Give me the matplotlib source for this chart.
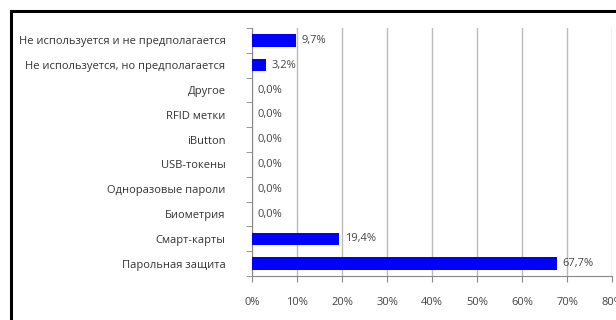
import matplotlib
matplotlib.use("Agg")
import matplotlib.pyplot as plt
from matplotlib.lines import Line2D
import numpy as np

plt.rcParams['font.family'] = ['Open Sans', 'DejaVu Sans']

categories = ["Не используется и не предполагается",
              "Не используется, но предполагается",
              "Другое", "RFID метки", "iButton", "USB-токены",
              "Одноразовые пароли", "Биометрия", "Смарт-карты",
              "Парольная защита"]
values = [9.7, 3.2, 0.0, 0.0, 0.0, 0.0, 0.0, 0.0, 19.4, 67.7]
xticks = [0, 10, 20, 30, 40, 50, 60, 70, 80]

fig = plt.figure(figsize=(6.16, 3.2), dpi=100)
ax = fig.add_axes([252/616, 1-276/320, (612-252)/616, (276-28)/320])

n = len(categories)
y = np.arange(n)[::-1]
ax.barh(y, values, height=0.5, color='#0000ff', edgecolor='none', zorder=3)
for yi, v in zip(y, values):
    ax.text(v + 1.2, yi, f"{v:.1f}%".replace('.', ','), va='center', ha='left',
            fontsize=8, color='#444444', zorder=4)

ax.set_xlim(0, 80)
ax.set_ylim(-0.5, n - 0.5)
ax.set_xticks(xticks)
ax.set_xticklabels([f"{t}%" for t in xticks], fontsize=8, color='#444444')
ax.set_yticks(y)
ax.set_yticklabels(categories, fontsize=8, color='#333333')
ax.set_yticks(np.arange(-0.5, n, 1.0), minor=True)
ax.tick_params(axis='y', which='major', length=0, pad=19)
ax.tick_params(axis='y', which='minor', length=4, color='#888888')
ax.tick_params(axis='x', which='major', length=4, color='#888888', pad=11, direction='out')
ax.grid(axis='x', color='#bbbbbb', linewidth=1, zorder=0)
for s in ['top', 'right']:
    ax.spines[s].set_visible(False)
ax.spines['left'].set_color('#888888')
ax.spines['bottom'].set_color('#888888')

fig.add_artist(Line2D([10.5/616, 10.5/616], [0, 1-10.5/320], color='black', linewidth=2.2))
fig.add_artist(Line2D([10.5/616, 1], [1-10.5/320, 1-10.5/320], color='black', linewidth=2.2))

fig.savefig("out.png", dpi=100)
